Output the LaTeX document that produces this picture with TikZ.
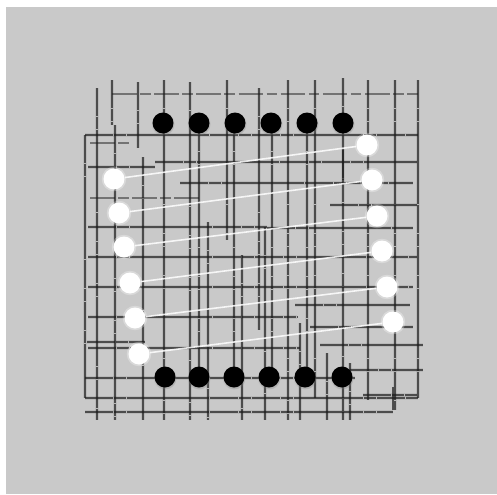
\documentclass[tikz,border=0pt]{standalone}
\usetikzlibrary{shadows}
\definecolor{bg}{RGB}{201,201,201}
\definecolor{ink}{RGB}{30,30,30}
\begin{document}
\begin{tikzpicture}[x=0.02cm,y=-0.02cm,
  gridhalo/.style={line width=2.2pt, black, opacity=0.08},
  gridline/.style={line width=0.75pt, ink, opacity=0.7, dash pattern=on 16pt off 0.35pt on 7pt off 0.4pt},
  faintline/.style={line width=0.7pt, ink, opacity=0.5, dash pattern=on 14pt off 2pt on 6pt off 2pt},
  blackdot/.style={circle, fill=black, inner sep=0pt, minimum size=0.42cm,
    circular drop shadow={shadow xshift=0pt, shadow yshift=-0.5pt, opacity=0.35, shadow scale=1.12}},
  whitedot/.style={circle, fill=white, inner sep=0pt, minimum size=0.42cm,
    preaction={draw=white, line width=2pt, opacity=0.3}},
  link/.style={white, line width=0.9pt, opacity=0.85}]
\useasboundingbox (0,0) rectangle (497,494);
\fill[white] (0,0) rectangle (497,494);
\fill[bg] (6,7) rectangle (497,494);
% vertical grid lines
\foreach \x/\a/\b in {85/135/398, 97/88/420, 112/80/125, 115/125/420, 138/82/148,
  143/157/420, 164/80/420, 190/82/420, 199/123/377, 208/222/420, 227/80/240,
  234/123/377, 242/255/420, 259/88/330, 265/227/420, 272/123/377, 288/80/420,
  300/323/420, 307/123/377, 315/80/398, 327/353/420, 343/78/420, 350/363/420,
  368/80/400, 395/80/410, 418/80/398} {
  \draw[gridhalo] (\x,\a) -- (\x,\b);
  \draw[gridline] (\x,\a) -- (\x,\b);
}
\draw[gridline, line width=1.1pt] (343,150) -- (343,180);
% horizontal grid lines
\foreach \y/\a/\b in {135/85/418, 162/155/417, 167/88/155, 183/180/413,
  205/330/417, 227/88/267, 228/267/413, 257/88/417, 287/88/413, 305/295/410,
  317/88/297, 327/310/413, 342/87/145, 345/320/423, 348/88/300, 370/350/423,
  378/85/355, 395/363/417, 398/85/418, 412/85/393} {
  \draw[gridhalo] (\a,\y) -- (\b,\y);
  \draw[gridline] (\a,\y) -- (\b,\y);
}
\draw[faintline] (112,94) -- (418,94);
\draw[faintline] (90,143) -- (130,143);
\draw[faintline] (90,198) -- (200,198);
\draw[gridline] (393,410) -- (393,387);
% dots
\foreach \i/\x in {1/163,2/199,3/235,4/271,5/307,6/343}
  \node[blackdot] (t\i) at (\x,123) {};
\foreach \i/\x in {1/165,2/199,3/234,4/269,5/305,6/342}
  \node[blackdot] (b\i) at (\x,377) {};
\foreach \i/\x/\y in {1/114/179,2/119/213,3/124/247,4/130/283,5/135/318,6/139/354}
  \node[whitedot] (l\i) at (\x,\y) {};
\foreach \i/\x/\y in {1/367/145,2/372/180,3/377/216,4/382/251,5/387/287,6/393/322}
  \node[whitedot] (r\i) at (\x,\y) {};
% white connectors
\foreach \i in {1,...,6}
  \draw[link] (l\i) -- (r\i);
\end{tikzpicture}
\end{document}
